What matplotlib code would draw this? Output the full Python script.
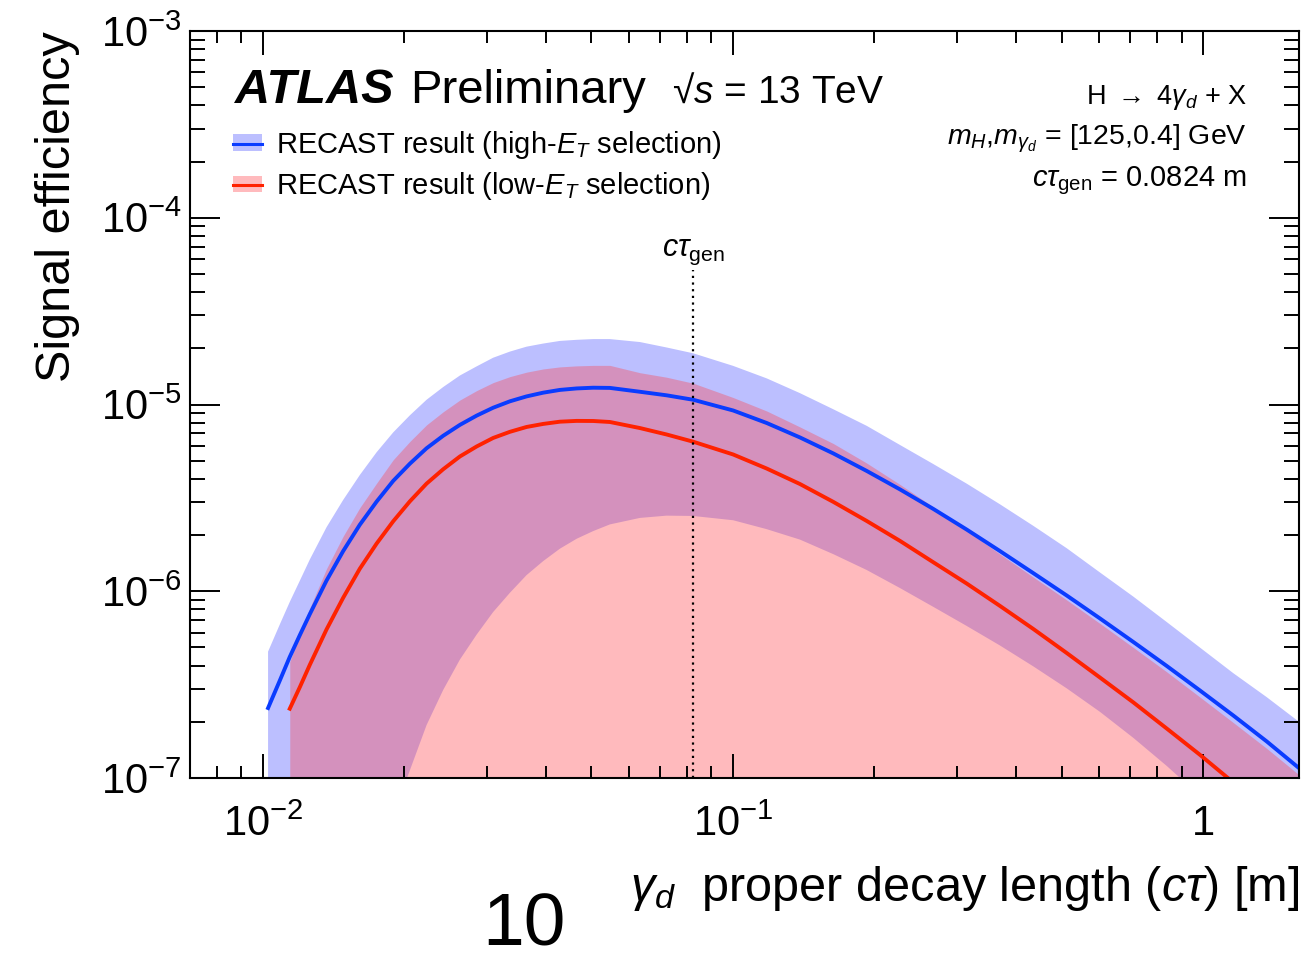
import matplotlib
matplotlib.use("Agg")
import matplotlib.pyplot as plt
from matplotlib.lines import Line2D
from matplotlib.patches import Patch
from matplotlib.ticker import FixedLocator, FixedFormatter, LogLocator

plt.rcParams['font.family'] = ['Liberation Sans', 'DejaVu Sans']
plt.rcParams['mathtext.fontset'] = 'custom'
plt.rcParams['mathtext.rm'] = 'Liberation Sans'
plt.rcParams['mathtext.it'] = 'Liberation Sans:italic'
plt.rcParams['mathtext.bf'] = 'Liberation Sans:bold'

# gamma_d proper decay length [m]
ctau = [0.01026, 0.01087, 0.01141, 0.01199, 0.01259, 0.01366, 0.01482, 0.01608, 0.01746, 0.01894,
        0.02055, 0.02230, 0.02419, 0.02626, 0.02850, 0.03090, 0.03354, 0.03639, 0.03948, 0.04285,
        0.04651, 0.05044, 0.05474, 0.06341, 0.07226, 0.08233, 0.1001, 0.1180, 0.1389, 0.1635,
        0.1925, 0.2267, 0.2668, 0.3142, 0.3700, 0.4355, 0.5129, 0.6037, 0.7108, 0.8372,
        0.9854, 1.160, 1.366, 1.600]

# high-ET selection (blue)
blue_eff = [2.37e-7, 3.33e-7, 4.45e-7, 5.83e-7, 7.55e-7, 1.14e-6, 1.64e-6, 2.27e-6, 3.02e-6, 3.90e-6,
            4.82e-6, 5.83e-6, 6.80e-6, 7.78e-6, 8.72e-6, 9.61e-6, 1.04e-5, 1.105e-5, 1.157e-5, 1.197e-5,
            1.219e-5, 1.230e-5, 1.227e-5, 1.17e-5, 1.12e-5, 1.06e-5, 9.29e-6, 7.96e-6, 6.66e-6, 5.47e-6,
            4.41e-6, 3.51e-6, 2.76e-6, 2.14e-6, 1.64e-6, 1.25e-6, 9.49e-7, 7.15e-7, 5.35e-7, 3.98e-7,
            2.94e-7, 2.16e-7, 1.57e-7, 1.13e-7]
blue_up = [4.75e-7, 6.65e-7, 8.76e-7, 1.14e-6, 1.48e-6, 2.20e-6, 3.08e-6, 4.19e-6, 5.55e-6, 7.09e-6,
           8.75e-6, 1.06e-5, 1.24e-5, 1.43e-5, 1.60e-5, 1.78e-5, 1.92e-5, 2.04e-5, 2.12e-5, 2.19e-5,
           2.22e-5, 2.24e-5, 2.24e-5, 2.16e-5, 2.02e-5, 1.88e-5, 1.61e-5, 1.38e-5, 1.15e-5, 9.43e-6,
           7.69e-6, 6.07e-6, 4.80e-6, 3.77e-6, 2.92e-6, 2.24e-6, 1.70e-6, 1.26e-6, 9.36e-7, 6.84e-7,
           4.99e-7, 3.64e-7, 2.71e-7, 2.00e-7]
blue_lo = [1.97e-11, 5.98e-11, 1.60e-10, 3.80e-10, 7.96e-10, 2.41e-9, 6.48e-9, 1.54e-8, 3.22e-8, 6.34e-8,
           1.10e-7, 1.92e-7, 2.96e-7, 4.31e-7, 5.86e-7, 7.74e-7, 9.81e-7, 1.22e-6, 1.45e-6, 1.69e-6,
           1.91e-6, 2.10e-6, 2.28e-6, 2.47e-6, 2.54e-6, 2.53e-6, 2.40e-6, 2.15e-6, 1.89e-6, 1.58e-6,
           1.30e-6, 1.04e-6, 8.25e-7, 6.52e-7, 5.12e-7, 3.96e-7, 3.02e-7, 2.26e-7, 1.64e-7, 1.16e-7,
           8.01e-8, 5.40e-8, 3.55e-8, 2.31e-8]

# low-ET selection (red), starts at the third decay length point
red_x = ctau[2:]
red_eff = [2.35e-7, 3.07e-7, 4.04e-7, 6.24e-7, 9.22e-7, 1.32e-6, 1.80e-6, 2.37e-6,
           3.03e-6, 3.77e-6, 4.50e-6, 5.27e-6, 5.96e-6, 6.62e-6, 7.14e-6, 7.58e-6, 7.87e-6, 8.09e-6,
           8.17e-6, 8.16e-6, 8.06e-6, 7.48e-6, 6.91e-6, 6.32e-6, 5.40e-6, 4.54e-6, 3.75e-6, 3.01e-6,
           2.38e-6, 1.86e-6, 1.43e-6, 1.10e-6, 8.34e-7, 6.28e-7, 4.67e-7, 3.45e-7, 2.54e-7, 1.84e-7,
           1.33e-7, 9.46e-8, 6.66e-8, 4.66e-8]
red_up = [4.18e-7, 5.98e-7, 8.14e-7, 1.32e-6, 1.97e-6, 2.80e-6, 3.79e-6, 5.06e-6,
          6.34e-6, 7.78e-6, 9.14e-6, 1.057e-5, 1.187e-5, 1.31e-5, 1.41e-5, 1.49e-5, 1.55e-5, 1.59e-5,
          1.61e-5, 1.62e-5, 1.62e-5, 1.48e-5, 1.40e-5, 1.30e-5, 1.09e-5, 9.23e-6, 7.58e-6, 6.18e-6,
          4.86e-6, 3.73e-6, 2.83e-6, 2.12e-6, 1.58e-6, 1.19e-6, 8.98e-7, 6.72e-7, 5.00e-7, 3.70e-7,
          2.71e-7, 1.98e-7, 1.44e-7, 1.04e-7]
red_lo = [1e-8, 1e-8, 1e-8, 1e-8, 1e-8, 1e-8, 1e-8, 1e-8,
          1e-8, 1e-8, 1e-8, 1e-8, 1e-8, 1e-8, 1e-8, 1e-8, 1e-8, 1e-8,
          1e-8, 1e-8, 1e-8, 1e-8, 1e-8, 1e-8, 1e-8, 1e-8, 1e-8, 1e-8,
          1e-8, 1e-8, 1e-8, 1e-8, 1e-8, 1e-8, 1e-8, 1e-8, 1e-8, 1e-8,
          1e-8, 1e-8, 1e-8, 1e-8]

ctau_gen = 0.0824
xticks = [0.01, 0.1, 1]
xticklabels = ['$10^{-2}$', '$10^{-1}$', '1']

blue_line_c = '#0a3cff'
blue_band_c = '#bcbfff'
red_line_c = '#ff2200'
red_band_c = '#ff424a'
red_alpha = 0.36

fig = plt.figure(figsize=(13.06, 9.66), dpi=100)
ax = fig.add_axes([190/1306, 188/966, 1109/1306, 747/966])

ax.fill_between(ctau, blue_lo, blue_up, color=blue_band_c, lw=0)
ax.plot(ctau, blue_eff, color=blue_line_c, lw=2.8)
ax.fill_between(red_x, red_lo, red_up, color=red_band_c, alpha=red_alpha, lw=0)
ax.plot(red_x, red_eff, color=red_line_c, lw=2.8)

ax.plot([ctau_gen, ctau_gen], [1e-7, 5.25e-5], color='black', lw=1.6, ls=(0, (1, 2)))
ax.text(ctau_gen, 0.6988, r'$c\tau_{\rm gen}$', transform=ax.get_xaxis_transform(),
        ha='center', va='baseline', fontsize=22)

ax.set_xscale('log')
ax.set_yscale('log')
ax.set_xlim(0.0070, 1.60)
ax.set_ylim(1e-7, 1e-3)

ax.xaxis.set_major_locator(FixedLocator(xticks))
ax.xaxis.set_major_formatter(FixedFormatter(xticklabels))
ax.xaxis.set_minor_locator(LogLocator(base=10, subs=range(2, 10), numticks=20))

for s in ax.spines.values():
    s.set_linewidth(1.5)
ax.tick_params(which='both', direction='in', top=True, right=True, width=1.4)
ax.tick_params(axis='x', which='major', length=17, labelsize=30, pad=19)
ax.tick_params(axis='x', which='minor', length=8.6)
ax.tick_params(axis='y', which='major', length=21.5, labelsize=30, pad=6)
ax.tick_params(axis='y', which='minor', length=10.8)

ax.set_xlabel(r'$\gamma_d$  proper decay length ($c\tau$) [m]', fontsize=35, loc='right', labelpad=14)
ax.set_ylabel('Signal efficiency', fontsize=35, loc='top', labelpad=15)

ax.text(0.0406, 0.9036, 'ATLAS', transform=ax.transAxes, fontsize=35,
        fontweight='bold', fontstyle='italic', va='baseline')
ax.text(0.1984, 0.9036, 'Preliminary', transform=ax.transAxes, fontsize=34, va='baseline')
ax.text(0.4346, 0.9036, '\u221a$s$ = 13 TeV', transform=ax.transAxes, fontsize=28, va='baseline')

ax.text(0.9531, 0.9023, r'H $\rightarrow$ 4$\gamma_d$ + X', transform=ax.transAxes,
        fontsize=19.5, ha='right', va='baseline')
ax.text(0.9531, 0.8474, r'$m_H$,$m_{\gamma_d}$ = [125,0.4] GeV', transform=ax.transAxes,
        fontsize=20.5, ha='right', va='baseline')
ax.text(0.9531, 0.7925, r'$c\tau_{\rm gen}$ = 0.0824 m', transform=ax.transAxes,
        fontsize=21, ha='right', va='baseline')

h_blue = (Patch(facecolor=blue_band_c, lw=0), Line2D([], [], color=blue_line_c, lw=2.2))
h_red = (Patch(facecolor=red_band_c, alpha=red_alpha, lw=0), Line2D([], [], color=red_line_c, lw=2.2))
ax.legend([h_blue, h_red],
          ['RECAST result (high-$E_T$ selection)', 'RECAST result (low-$E_T$ selection)'],
          loc='upper left', bbox_to_anchor=(0.0388, 0.869), frameon=False, fontsize=21,
          handlelength=1.0, handleheight=0.5, handletextpad=0.48, labelspacing=0.32,
          borderpad=0, borderaxespad=0)

fig.text(524/1306, 1 - 926/966, '10', fontsize=54, ha='center', va='center')

fig.savefig('out.png', dpi=100)
